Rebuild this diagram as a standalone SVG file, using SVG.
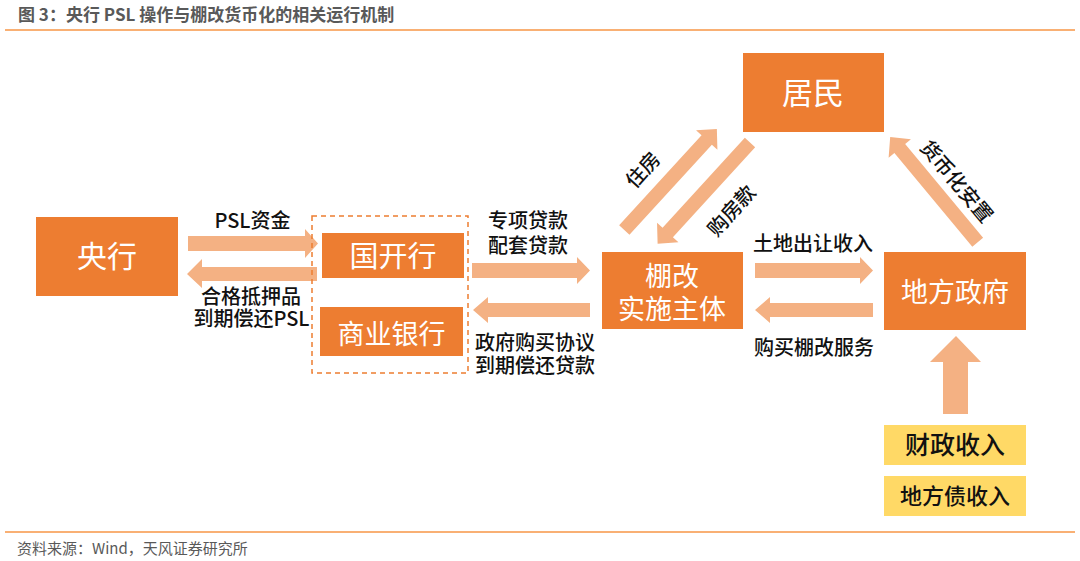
<svg xmlns="http://www.w3.org/2000/svg" width="1080" height="561" viewBox="0 0 1080 561">
<style>
text { font-family: "Noto Sans CJK SC", "Noto Sans", sans-serif; }
.box { fill: #ED7D31; }
.ybox { fill: #FFD966; }
.wt { fill: #FFFFFF; text-anchor: middle; }
.lb { fill: #111111; text-anchor: middle; font-size: 20px; font-weight: 500; }
.arr { fill: #F4B183; }
.rule { stroke: #F79646; stroke-width: 1.5; }
</style>
<defs>
<polygon id="diag" points="0,-7 122,-7 122,-14.5 137,0 122,14.5 122,7 0,7"/>
</defs>
<rect width="1080" height="561" fill="#FFFFFF"/>
<text x="18" y="21" font-size="17" font-weight="700" fill="#595959">图 3：央行 PSL 操作与棚改货币化的相关运行机制</text>
<line class="rule" x1="5" y1="30" x2="1075" y2="30"/>
<line class="rule" x1="5" y1="532" x2="1075" y2="532"/>
<text x="17" y="554" font-size="15" fill="#595959">资料来源：Wind，天风证券研究所</text>

<g id="connectors">
<polygon class="arr" points="188,236 305,236 305,229 318,243.5 305,258 305,251 188,251"/>
<polygon class="arr" points="187,274 202,259 202,267 317,267 317,281 202,281 202,288"/>
<polygon class="arr" points="472,263 577,263 577,257 590,270.5 577,284 577,278 472,278"/>
<polygon class="arr" points="473,310 488,297 488,303 590,303 590,317 488,317 488,323"/>
<polygon class="arr" points="755,263 860,263 860,257 873,270.5 860,284 860,278 755,278"/>
<polygon class="arr" points="755,310 770,297 770,303 873,303 873,317 770,317 770,323"/>
<polygon class="arr" points="956,336 981,362 968,362 968,414 943,414 943,362 930,362"/>
<use href="#diag" class="arr" transform="translate(624.3,230) rotate(-47.5)"/>
<use href="#diag" class="arr" transform="translate(750,142.5) rotate(132.4)"/>
<use href="#diag" class="arr" transform="translate(977.7,242.3) rotate(-129.7)"/>
<text class="lb" x="252.5" y="228">PSL资金</text>
<text class="lb" x="251" y="303.5">合格抵押品</text>
<text class="lb" x="251.5" y="326">到期偿还PSL</text>
<text class="lb" x="528" y="228">专项贷款</text>
<text class="lb" x="528" y="252.5">配套贷款</text>
<text class="lb" x="535" y="349.5">政府购买协议</text>
<text class="lb" x="535" y="373">到期偿还贷款</text>
<text class="lb" x="813" y="251">土地出让收入</text>
<text class="lb" x="814" y="354.5">购买棚改服务</text>
<text class="lb" x="0" y="7" transform="translate(643,170) rotate(-48)">住房</text>
<text class="lb" x="0" y="7" transform="translate(731.7,210.7) rotate(-48)">购房款</text>
<text class="lb" x="0" y="7" transform="translate(956.5,181.5) rotate(50)">货币化安置</text>
</g>

<g id="node-central-bank">
<rect class="box" x="36" y="217" width="142" height="79"/>
<text class="wt" x="107" y="267" font-size="30">央行</text>
</g>
<g id="node-bank-group">
<rect x="312" y="216" width="156" height="157" fill="none" stroke="#ED7D31" stroke-width="1.5" stroke-dasharray="5,4"/>
</g>
<g id="node-cdb">
<rect class="box" x="322" y="233" width="142" height="45"/>
<text class="wt" x="393" y="267" font-size="29">国开行</text>
</g>
<g id="node-commercial-bank">
<rect class="box" x="320" y="307" width="143" height="49"/>
<text class="wt" x="391.5" y="344" font-size="27">商业银行</text>
</g>
<g id="node-residents">
<rect class="box" x="743" y="53" width="141" height="79"/>
<text class="wt" x="813" y="104" font-size="31">居民</text>
</g>
<g id="node-shantytown">
<rect class="box" x="602" y="252" width="141" height="77"/>
<text class="wt" x="672" y="285.5" font-size="27">棚改</text>
<text class="wt" x="672" y="318.5" font-size="27">实施主体</text>
</g>
<g id="node-local-gov">
<rect class="box" x="884" y="252" width="142" height="78"/>
<text class="wt" x="955" y="302" font-size="27">地方政府</text>
</g>
<g id="node-fiscal">
<rect class="ybox" x="884" y="425" width="142" height="40"/>
<text x="955" y="454" font-size="25" font-weight="500" fill="#111111" text-anchor="middle">财政收入</text>
</g>
<g id="node-debt">
<rect class="ybox" x="884" y="476" width="142" height="40"/>
<text x="955" y="504" font-size="22" font-weight="500" fill="#111111" text-anchor="middle">地方债收入</text>
</g>
</svg>
